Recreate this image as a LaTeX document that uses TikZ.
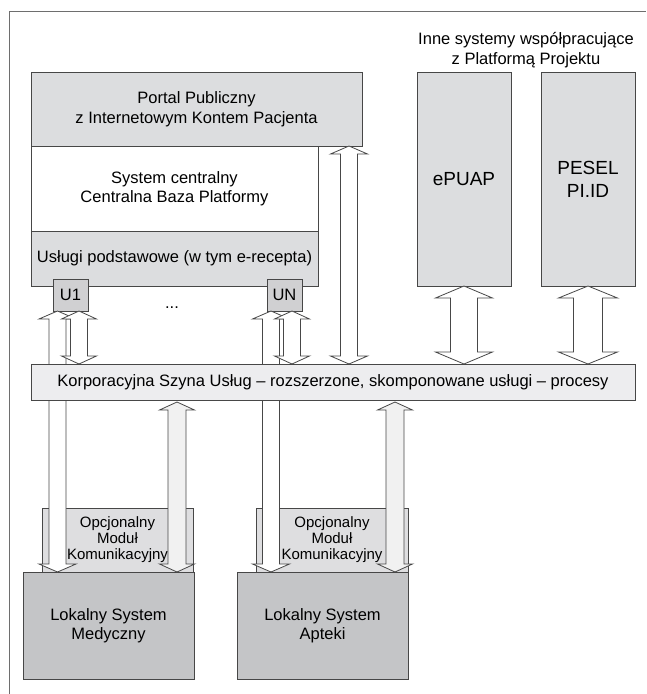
\documentclass[tikz,border=0pt]{standalone}
\usepackage{fontspec}
\setmainfont{Liberation Sans}
\usetikzlibrary{calc}
\definecolor{bordc}{HTML}{474747}
\definecolor{framec}{HTML}{6E6E6E}
\definecolor{gPortal}{HTML}{DCDDDF}
\definecolor{gU}{HTML}{D0D0D2}
\definecolor{gLok}{HTML}{C4C5C7}
\definecolor{gBus}{HTML}{EDEDEF}
\definecolor{gMod}{HTML}{DEDEE0}
\definecolor{gArr}{HTML}{F1F1F1}
\newcommand\fsN{\fontsize{16.5}{19.5}\selectfont}
\newcommand\fsB{\fontsize{19}{23}\selectfont}
\newcommand\fsM{\fontsize{15}{16}\selectfont}
\newcommand\myDblArrow[6]{%
  \path[#6] let \p1=(#1), \p2=(#2) in
    (\x1,\y1) -- (\x1+#4,\y1-#5) -- (\x1+#3,\y1-#5) -- (\x1+#3,\y2+#5)
    -- (\x1+#4,\y2+#5) -- (\x1,\y2) -- (\x1-#4,\y2+#5) -- (\x1-#3,\y2+#5)
    -- (\x1-#3,\y1-#5) -- (\x1-#4,\y1-#5) -- cycle;}
\begin{document}
\begin{tikzpicture}[x=1pt,y=-1pt,
  box/.style={draw=bordc, line width=0.9pt, inner sep=0pt, outer sep=0pt,
    anchor=north west, align=center, font=\fsN},
  arrw/.style={draw=bordc, line width=0.8pt, fill=white, line join=miter},
  arrg/.style={draw=bordc, line width=0.8pt, fill=gArr, line join=miter},
  lbl/.style={inner sep=0pt, align=center, font=\fsN}]
\useasboundingbox (0,0) rectangle (646,694);
% frame (top and left edges visible)
\coordinate (fl) at (9,694);
\coordinate (fc) at (9,11);
\coordinate (fr) at (646,11);
\draw[framec, line width=0.9pt] (fl) -- (fc) -- (fr);

% header text
\node[lbl] (hdr) at (526,50) {Inne systemy współpracujące\\z Platformą Projektu};

% main platform blocks
\node[box, fill=gPortal, minimum width=331pt, minimum height=74pt] (portal) at (31,72)
  {Portal Publiczny\\z Internetowym Kontem Pacjenta};
\node[box, fill=white, minimum width=287pt, minimum height=85pt] (central) at (31,146)
  {System centralny\\Centralna Baza Platformy};
\node[box, fill=gPortal, minimum width=287pt, minimum height=55pt] (uslugi) at (31,231)
  {Usługi podstawowe (w tym e-recepta)};

% other systems
\node[box, fill=gPortal, minimum width=94pt, minimum height=214pt, font=\fsB] (epuap) at (417,72) {ePUAP};
\node[box, fill=gPortal, minimum width=94pt, minimum height=214pt, font=\fsB] (pesel) at (541,72) {PESEL\\PI.ID};

% local systems
\node[box, fill=gMod, minimum width=151pt, minimum height=64pt, font=\fsM] (mod1) at (42,508)
  {Opcjonalny\\Moduł\\Komunikacyjny};
\node[box, fill=gLok, minimum width=171pt, minimum height=107pt] (lsm) at (23,572)
  {Lokalny System\\Medyczny};
\node[box, fill=gMod, minimum width=152pt, minimum height=64pt, font=\fsM] (mod2) at (256,508)
  {Opcjonalny\\Moduł\\Komunikacyjny};
\node[box, fill=gLok, minimum width=171pt, minimum height=107pt] (lsa) at (237,572)
  {Lokalny System\\Apteki};

% service endpoints
\node[box, fill=gU, minimum width=35pt, minimum height=32pt] (u1) at (53,279) {U1};
\node[box, fill=gU, minimum width=35pt, minimum height=32pt] (un) at (267,279) {UN};
\node[lbl, anchor=base] (dots) at (172,308) {...};

% bus (needed for coordinates; drawn later on top)
\path (31,364) coordinate (busNW) (635,400) coordinate (busSE);

% long arrows from endpoints to local systems (pass under the bus)
\coordinate (l1t) at ($(u1.south)+(-13,0)$);
\coordinate (l1b) at (l1t |- lsm.north);
\myDblArrow{l1t}{l1b}{8.5pt}{18.5pt}{8pt}{arrw}
\coordinate (l2t) at ($(un.south)+(-13.5,0)$);
\coordinate (l2b) at (l2t |- lsa.north);
\myDblArrow{l2t}{l2b}{8.5pt}{18.5pt}{8pt}{arrw}

% short arrows endpoint <-> bus
\coordinate (s1t) at ($(u1.south)+(8.5,0)$);
\coordinate (s1b) at (s1t |- busNW);
\myDblArrow{s1t}{s1b}{8.5pt}{17.5pt}{8pt}{arrw}
\coordinate (s2t) at ($(un.south)+(7.5,0)$);
\coordinate (s2b) at (s2t |- busNW);
\myDblArrow{s2t}{s2b}{8.5pt}{17.5pt}{8pt}{arrw}

% portal <-> bus
\coordinate (pt) at ($(portal.south east)+(-13,0)$);
\coordinate (pb) at (pt |- busNW);
\myDblArrow{pt}{pb}{8.5pt}{18.5pt}{8pt}{arrw}

% ePUAP, PESEL <-> bus
\coordinate (et) at (epuap.south);
\coordinate (eb) at (et |- busNW);
\myDblArrow{et}{eb}{13.5pt}{28.5pt}{12pt}{arrw}
\coordinate (qt) at (pesel.south);
\coordinate (qb) at (qt |- busNW);
\myDblArrow{qt}{qb}{14.5pt}{29.5pt}{12pt}{arrw}

% bus
\node[box, fill=gBus, minimum width=604pt, minimum height=36pt] (bus) at (busNW)
  {Korporacyjna Szyna Usług – rozszerzone, skomponowane usługi – procesy};

% bus <-> local systems
\coordinate (m1b) at ($(lsm.north east)+(-17,0)$);
\coordinate (m1t) at ($(m1b |- bus.south)+(0,2)$);
\myDblArrow{m1t}{m1b}{9pt}{17.5pt}{8pt}{arrg}
\coordinate (m2b) at ($(lsa.north east)+(-13,0)$);
\coordinate (m2t) at ($(m2b |- bus.south)+(0,2)$);
\myDblArrow{m2t}{m2b}{9pt}{17.5pt}{8pt}{arrg}
\end{tikzpicture}
\end{document}
